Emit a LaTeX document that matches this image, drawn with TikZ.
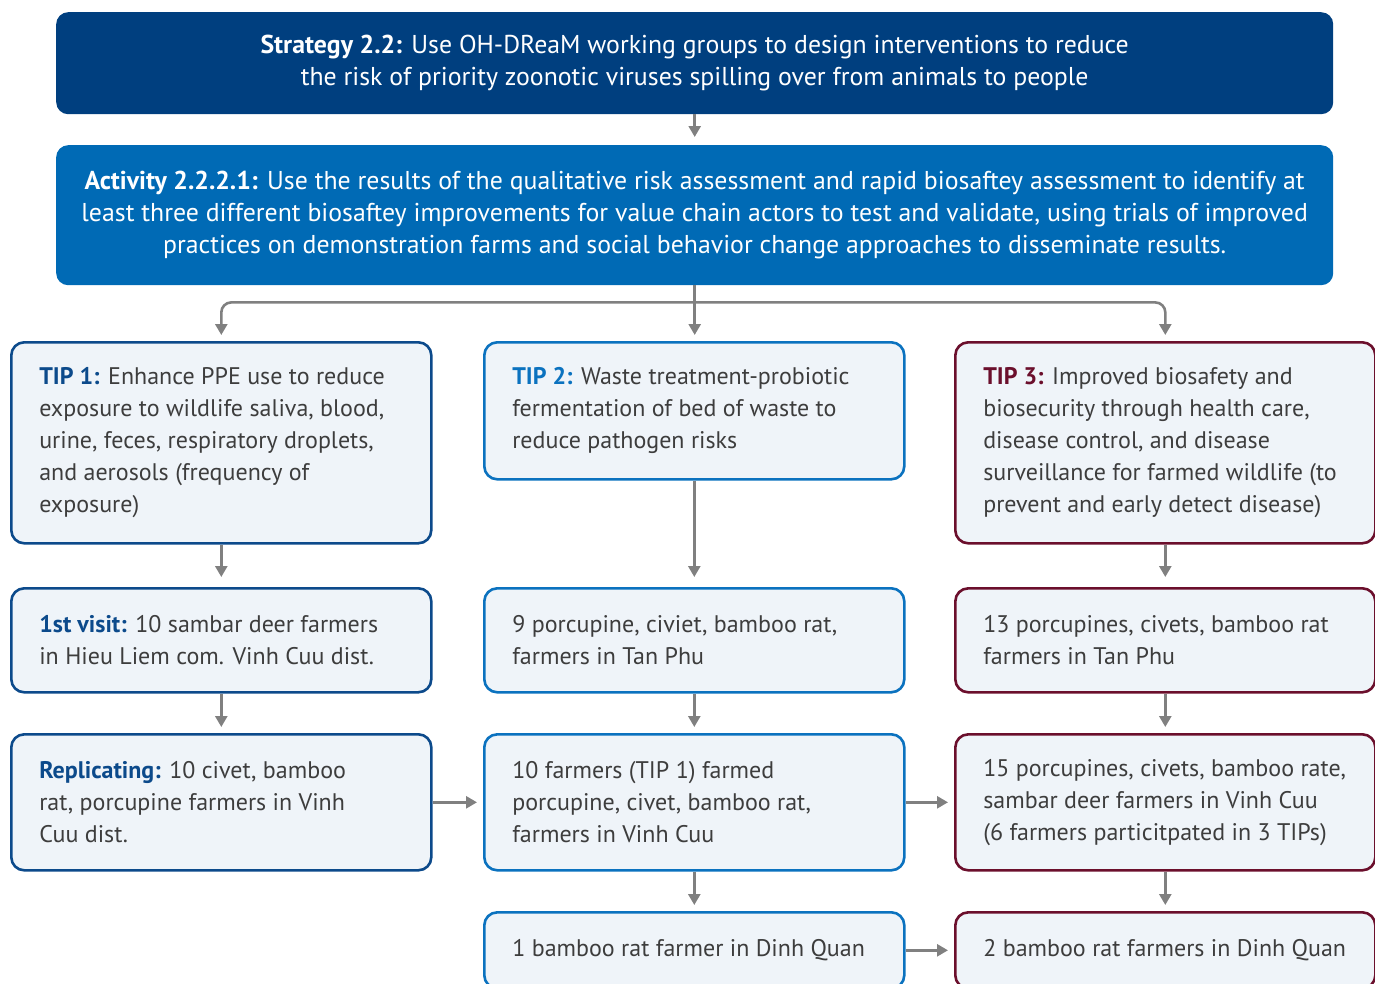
\documentclass[tikz,border=0pt]{standalone}
\usepackage{fontspec}
\setmainfont{PT Sans}
\usetikzlibrary{arrows.meta}
\definecolor{stratblue}{HTML}{003F7F}
\definecolor{actblue}{HTML}{006AB5}
\definecolor{tipdark}{HTML}{0C4A8B}
\definecolor{tipmid}{HTML}{0B72BF}
\definecolor{tipwine}{HTML}{6B0F2C}
\definecolor{boxfill}{HTML}{EFF4F9}
\definecolor{bodygray}{HTML}{3D3D3D}
\definecolor{linkgray}{HTML}{808080}

\begin{document}
\begin{tikzpicture}[x=1pt, y=-1pt,
    banner/.style={fill=#1, rounded corners=12pt, anchor=north west, minimum width=1277pt,
      align=center, text=white, font=\fontsize{25.8}{32}\selectfont},
    tipbox/.style={draw=#1, line width=2.6pt, fill=boxfill, rounded corners=13pt, anchor=north west,
      text width=364pt, inner xsep=28pt, align=flush left, text=bodygray, font=\fontsize{24}{32}\selectfont},
    link/.style={draw=linkgray, line width=2.6pt, -{Triangle[width=12pt,length=11pt]}, shorten >=6pt}]
  \path[use as bounding box, clip] (0,0) rectangle (1375,983);

  \node[banner=stratblue, minimum height=102pt] (strategy) at (56,12)
    {\textbf{Strategy 2.2:} Use OH-DReaM working groups to design interventions to reduce\\
     the risk of priority zoonotic viruses spilling over from animals to people};
  \node[banner=actblue, minimum height=140pt] (activity) at (56,145)
    {\textbf{Activity 2.2.2.1:} Use the results of the qualitative risk assessment and rapid biosaftey assessment to identify at\\
     least three different biosaftey improvements for value chain actors to test and validate, using trials of improved\\
     practices on demonstration farms and social behavior change approaches to disseminate results.};

  \node[tipbox=tipdark, minimum height=201pt] (tipone) at (10,341)
    {\textbf{\color{tipdark}TIP 1:} Enhance PPE use to reduce\\exposure to wildlife saliva, blood,\\urine, feces, respiratory droplets,\\and aerosols (frequency of\\exposure)};
  \node[tipbox=tipmid, minimum height=137pt] (tiptwo) at (483,341)
    {\textbf{\color{tipmid}TIP 2:} Waste treatment-probiotic\\fermentation of bed of waste to\\reduce pathogen risks};
  \node[tipbox=tipwine, minimum height=201pt] (tipthree) at (954,341)
    {\textbf{\color{tipwine}TIP 3:} Improved biosafety and\\biosecurity through health care,\\disease control, and disease\\surveillance for farmed wildlife (to\\prevent and early detect disease)};

  \node[tipbox=tipdark, minimum height=104pt] (visitone) at (10,587)
    {\textbf{\color{tipdark}1st visit:} 10 sambar deer farmers\\in Hieu Liem com. Vinh Cuu dist.};
  \node[tipbox=tipmid, minimum height=104pt] (visittwo) at (483,587)
    {9 porcupine, civiet, bamboo rat,\\farmers in Tan Phu};
  \node[tipbox=tipwine, minimum height=104pt] (visitthree) at (954,587)
    {13 porcupines, civets, bamboo rat\\farmers in Tan Phu};

  \node[tipbox=tipdark, minimum height=136pt] (repone) at (10,733)
    {\textbf{\color{tipdark}Replicating:} 10 civet, bamboo\\rat, porcupine farmers in Vinh\\Cuu dist.};
  \node[tipbox=tipmid, minimum height=136pt] (reptwo) at (483,733)
    {10 farmers (TIP 1) farmed\\porcupine, civet, bamboo rat,\\farmers in Vinh Cuu};
  \node[tipbox=tipwine, minimum height=136pt] (repthree) at (954,733)
    {15 porcupines, civets, bamboo rate,\\sambar deer farmers in Vinh Cuu\\(6 farmers particitpated in 3 TIPs)};

  \node[tipbox=tipmid, minimum height=76pt] (dqtwo) at (483,911)
    {1 bamboo rat farmer in Dinh Quan};
  \node[tipbox=tipwine, minimum height=76pt] (dqthree) at (954,911)
    {2 bamboo rat farmers in Dinh Quan};

  \coordinate (fork) at ([yshift=-17pt]activity.south);
  \draw[link, shorten >=8pt] (strategy) -- (activity);
  \draw[link] (activity.south) -- (activity.south |- tiptwo.north);
  \draw[link, rounded corners=10pt] (fork) -| (tipone.north);
  \draw[link, rounded corners=10pt] (fork) -| (tipthree.north);
  \draw[link, shorten >=10pt] (tipone) -- (visitone);
  \draw[link, shorten >=10pt] (tiptwo) -- (visittwo);
  \draw[link, shorten >=10pt] (tipthree) -- (visitthree);
  \draw[link] (visitone) -- (repone);
  \draw[link] (visittwo) -- (reptwo);
  \draw[link] (visitthree) -- (repthree);
  \draw[link] (repone) -- (reptwo);
  \draw[link] (reptwo) -- (repthree);
  \draw[link] (reptwo) -- (dqtwo);
  \draw[link] (repthree) -- (dqthree);
  \draw[link] (dqtwo) -- (dqthree);
\end{tikzpicture}
\end{document}
